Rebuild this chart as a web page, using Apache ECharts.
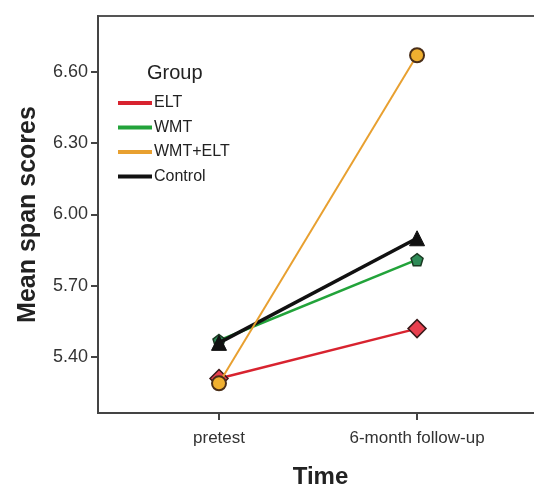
<!DOCTYPE html>
<html>
<head>
<meta charset="utf-8">
<script src="https://cdn.jsdelivr.net/npm/echarts@6/dist/echarts.min.js"></script>
<style>
  html, body { margin: 0; padding: 0; background: #fff; }
  #main { width: 534px; height: 487px; }
</style>
</head>
<body>
<div id="main"></div>
<script>
  // categories on the time axis (placed at 0 and 1 of a value axis)
  var times = ['pretest', '6-month follow-up'];
  var groups = ['ELT', 'WMT', 'WMT+ELT', 'Control'];
  var yTicks = [5.40, 5.70, 6.00, 6.30, 6.60];

  // mean span scores
  var elt = [5.31, 5.52];
  var wmt = [5.47, 5.81];
  var wmtElt = [5.29, 6.67];
  var control = [5.46, 5.90];

  function pts(arr) {
    return arr.map(function (v, i) { return [i, v]; });
  }

  var lineColors = ['#d8232f', '#22a33a', '#e8a030', '#111'];

  var chart = echarts.init(document.getElementById('main'));
  var font = 'Liberation Sans, Arial, sans-serif';

  chart.setOption({
    animation: false,
    textStyle: { fontFamily: font },
    title: {
      text: 'Group',
      left: 142,
      top: 58,
      textStyle: { fontSize: 20, fontWeight: 'normal', color: '#222', fontFamily: font }
    },
    legend: {
      orient: 'vertical',
      left: 118,
      top: 95,
      padding: 0,
      data: groups.map(function (g, i) {
        return { name: g, itemStyle: { color: lineColors[i], borderWidth: 0 } };
      }),
      icon: 'rect',
      itemWidth: 34,
      itemHeight: 4,
      itemGap: 8.5,
      itemStyle: { borderWidth: 0 },
      textStyle: { fontSize: 16, color: '#222', lineHeight: 16, padding: [0, 0, 0, -3] }
    },
    grid: {
      left: 98,
      top: 16,
      width: 445,
      height: 397,
      show: true,
      borderColor: '#555',
      borderWidth: 2,
      containLabel: false,
      outerBoundsMode: 'none'
    },
    xAxis: {
      type: 'value',
      min: -0.611,
      max: 1.636,
      name: 'Time',
      nameLocation: 'middle',
      nameGap: 52,
      nameTextStyle: { fontSize: 24, fontWeight: 'bold', color: '#222' },
      splitLine: { show: false },
      axisLine: { onZero: false, lineStyle: { color: '#444', width: 2 } },
      axisTick: { customValues: [0, 1], length: 7, lineStyle: { color: '#444', width: 2 } },
      axisLabel: {
        customValues: [0, 1],
        formatter: function (v) { return times[Math.round(v)]; },
        fontSize: 17,
        color: '#333',
        margin: 17
      }
    },
    yAxis: {
      type: 'value',
      min: 5.165,
      max: 6.835,
      name: 'Mean span scores',
      nameLocation: 'middle',
      nameGap: 57,
      nameTextStyle: { fontSize: 25, fontWeight: 'bold', color: '#222' },
      splitLine: { show: false },
      axisLine: { show: true, onZero: false, lineStyle: { color: '#444', width: 2 } },
      axisTick: { customValues: yTicks, length: 7, lineStyle: { color: '#444', width: 2 } },
      axisLabel: {
        customValues: yTicks,
        formatter: function (v) { return v.toFixed(2); },
        fontSize: 18,
        color: '#333',
        margin: 10
      }
    },
    series: [{
      name: 'ELT',
      type: 'line',
      data: pts(elt),
      z: 2,
      lineStyle: { width: 2.5, color: lineColors[0] },
      symbol: 'diamond',
      symbolSize: 18,
      itemStyle: { color: '#e8404f', borderColor: '#3a1a1a', borderWidth: 1.5 }
    }, {
      name: 'WMT',
      type: 'line',
      data: pts(wmt),
      z: 3,
      lineStyle: { width: 2.5, color: lineColors[1] },
      symbol: 'path://M0,-10 L9.5,-3.1 L5.9,8.1 L-5.9,8.1 L-9.5,-3.1 Z',
      symbolSize: 12,
      itemStyle: { color: '#2e8b57', borderColor: '#1a3a22', borderWidth: 1.5 }
    }, {
      name: 'WMT+ELT',
      type: 'line',
      data: pts(wmtElt),
      z: 5,
      lineStyle: { width: 2, color: lineColors[2] },
      symbol: 'circle',
      symbolSize: 14,
      itemStyle: { color: '#f0b030', borderColor: '#4a2e18', borderWidth: 2 }
    }, {
      name: 'Control',
      type: 'line',
      data: pts(control),
      z: 4,
      lineStyle: { width: 3.5, color: lineColors[3] },
      symbol: 'triangle',
      symbolSize: 15,
      itemStyle: { color: '#111', borderColor: '#111', borderWidth: 1 }
    }]
  });
</script>
</body>
</html>
